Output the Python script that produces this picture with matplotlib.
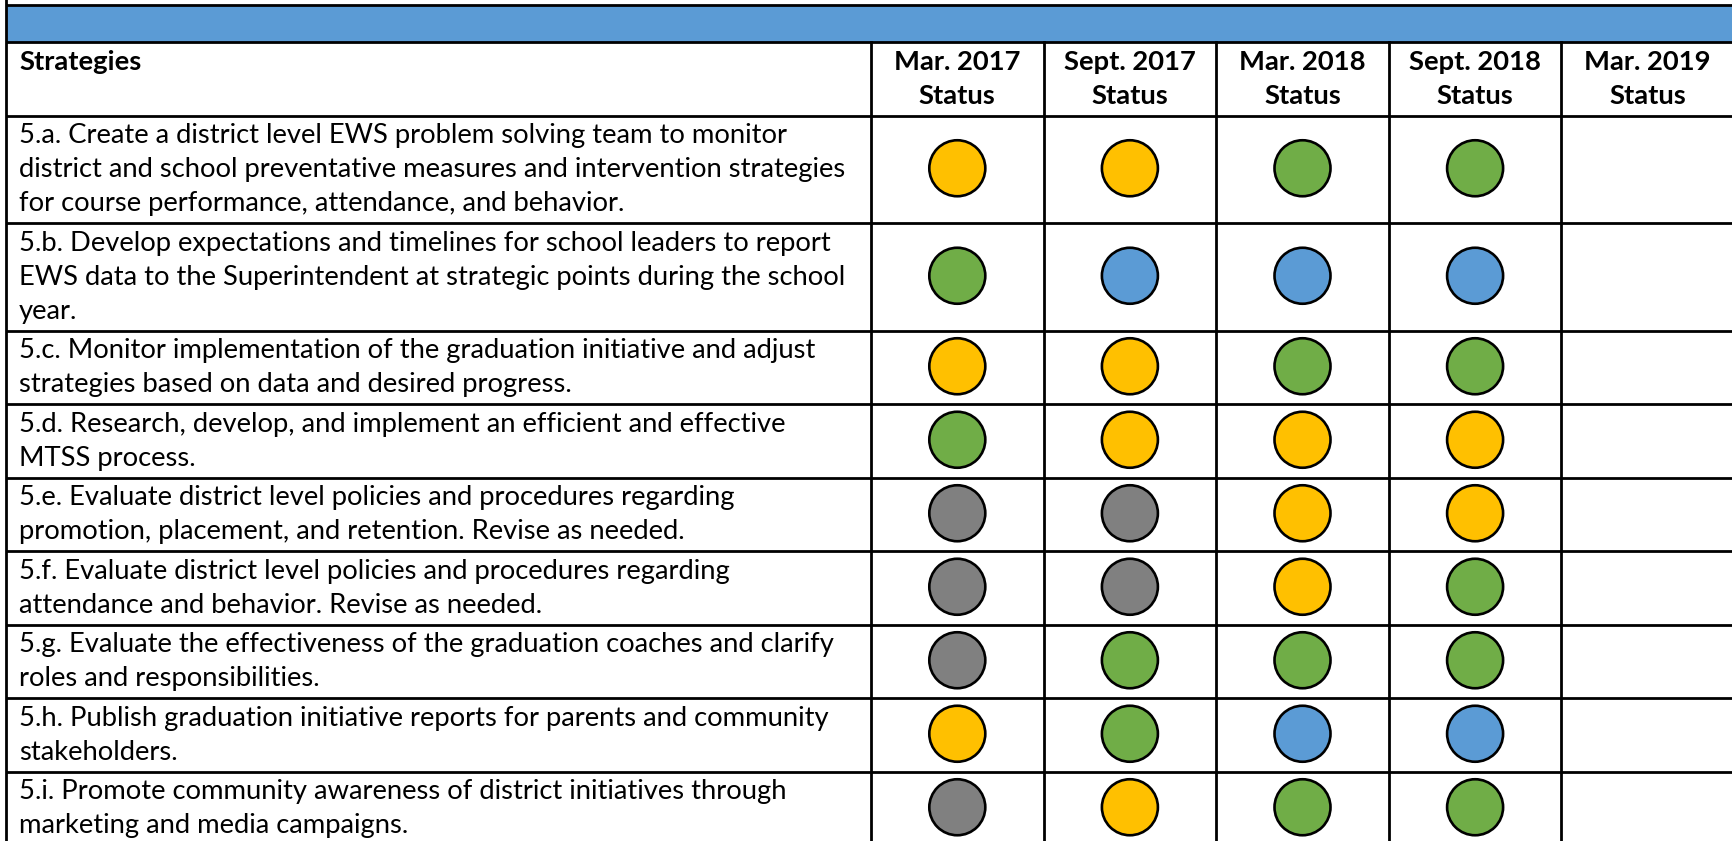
import matplotlib
matplotlib.use("Agg")
import matplotlib.pyplot as plt
from matplotlib.patches import Circle, Rectangle

# ---------------- data ----------------
periods = ["Mar. 2017\nStatus", "Sept. 2017\nStatus", "Mar. 2018\nStatus",
           "Sept. 2018\nStatus", "Mar. 2019\nStatus"]
header_label = "Strategies"

strategies = [
    "5.a. Create a district level EWS problem solving team to monitor\n"
    "district and school preventative measures and intervention strategies\n"
    "for course performance, attendance, and behavior.",
    "5.b. Develop expectations and timelines for school leaders to report\n"
    "EWS data to the Superintendent at strategic points during the school\n"
    "year.",
    "5.c. Monitor implementation of the graduation initiative and adjust\n"
    "strategies based on data and desired progress.",
    "5.d. Research, develop, and implement an efficient and effective\n"
    "MTSS process.",
    "5.e. Evaluate district level policies and procedures regarding\n"
    "promotion, placement, and retention. Revise as needed.",
    "5.f. Evaluate district level policies and procedures regarding\n"
    "attendance and behavior. Revise as needed.",
    "5.g. Evaluate the effectiveness of the graduation coaches and clarify\n"
    "roles and responsibilities.",
    "5.h. Publish graduation initiative reports for parents and community\n"
    "stakeholders.",
    "5.i. Promote community awareness of district initiatives through\n"
    "marketing and media campaigns.",
]

# status per period (None = no entry yet)
status_mar_2017 = ["yellow", "green", "yellow", "green", "gray", "gray", "gray", "yellow", "gray"]
status_sep_2017 = ["yellow", "blue", "yellow", "yellow", "gray", "gray", "green", "green", "yellow"]
status_mar_2018 = ["green", "blue", "green", "yellow", "yellow", "yellow", "green", "blue", "green"]
status_sep_2018 = ["green", "blue", "green", "yellow", "yellow", "green", "green", "blue", "green"]
status_mar_2019 = [None] * 9
status_columns = [status_mar_2017, status_sep_2017, status_mar_2018,
                  status_sep_2018, status_mar_2019]

status_colors = {"yellow": "#FFC000", "green": "#70AD47",
                 "blue": "#5B9BD5", "gray": "#808080"}

# ---------------- layout ----------------
W, H = 1732, 841
fig = plt.figure(figsize=(W / 100, H / 100), dpi=100)
ax = fig.add_axes([0, 0, 1, 1])
ax.set_xlim(0, W)
ax.set_ylim(H, 0)
ax.axis("off")

FONT = "Lato"
line_h = 34.0
pad = 5.5
lw = 2.0
left = 5.5
first_col_right = 871
col_w = 172.6
top = 5
band_bottom = 42
header_bottom = band_bottom + 2 * line_h + pad

# fit font size so the widest strategy line spans ~830 px
renderer = fig.canvas.get_renderer()
probe = ax.text(0, 0, "district and school preventative measures and intervention strategies",
                fontsize=20, family=FONT)
wpx = probe.get_window_extent(renderer).width
probe.remove()
fs = 20 * 830.0 / wpx

# blue band
ax.add_patch(Rectangle((left, top), W - left, band_bottom - top,
                       facecolor="#5B9BD5", edgecolor="none", zorder=0))

# row boundaries
row_edges = [header_bottom]
for s in strategies:
    n = len(s.split("\n"))
    row_edges.append(row_edges[-1] + n * line_h + pad)


def put_lines(x, yc, text, ha, weight, nslots=None):
    lines = text.split("\n")
    n = nslots if nslots else len(lines)
    for i, ln in enumerate(lines):
        yb = yc + (i - (n - 1) / 2) * line_h + 8
        ax.text(x, yb, ln, ha=ha, va="baseline", fontsize=fs,
                family=FONT, fontweight=weight, color="black")


# header texts
hc = (band_bottom + header_bottom) / 2
put_lines(19, hc, header_label, "left", "bold", nslots=2)
col_centers = [first_col_right + col_w * (j + 0.5) for j in range(len(periods))]
for cx, p in zip(col_centers, periods):
    put_lines(cx, hc, p, "center", "bold")

# strategy rows
for r, s in enumerate(strategies):
    yc = (row_edges[r] + row_edges[r + 1]) / 2
    put_lines(19, yc, s, "left", "normal")
    for j, col in enumerate(status_columns):
        st = col[r]
        if st is None:
            continue
        ax.add_patch(Circle((col_centers[j], yc - 1), 28,
                            facecolor=status_colors[st], edgecolor="black",
                            linewidth=1.9, zorder=3))

# grid lines
for y in [top, band_bottom] + row_edges:
    ax.plot([left, W], [y, y], color="black", lw=lw, solid_capstyle="butt", zorder=2)
ax.plot([left, left], [0, H], color="black", lw=lw, zorder=2)
for j in range(len(periods)):
    x = first_col_right + col_w * j
    ax.plot([x, x], [band_bottom, H], color="black", lw=lw, zorder=2)

fig.savefig("out.png", dpi=100, facecolor="white")
